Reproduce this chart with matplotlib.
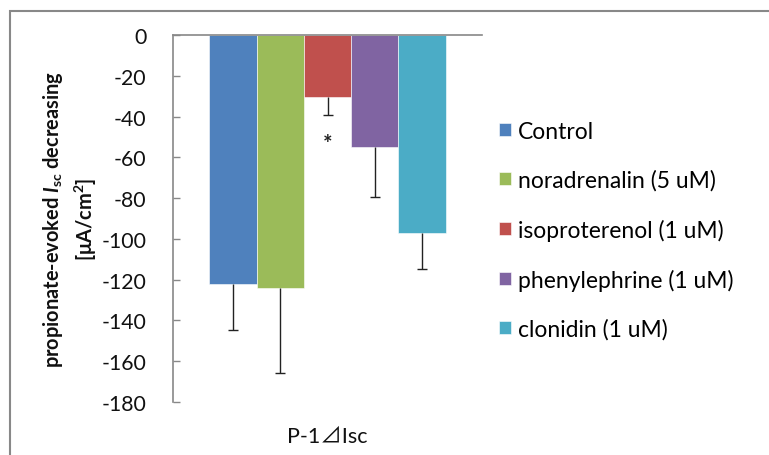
import matplotlib
matplotlib.use("Agg")
import matplotlib.pyplot as plt
from matplotlib.patches import Rectangle
import numpy as np

# ---- data ----
series = ["Control", "noradrenalin (5 uM)", "isoproterenol (1 uM)",
          "phenylephrine (1 uM)", "clonidin (1 uM)"]
values = [-122, -124, -30.5, -55, -97]
errors = [22.5, 42, 8.5, 24.5, 18]
category = "P-1\u22bfIsc"
yticks = [0, -20, -40, -60, -80, -100, -120, -140, -160, -180]
colors = ["#4F81BD", "#9BBB59", "#C0504D", "#8064A2", "#4BACC6"]

plt.rcParams['font.family'] = ['Lato', 'DejaVu Sans']
plt.rcParams['mathtext.fontset'] = 'custom'
plt.rcParams['mathtext.rm'] = 'Lato:bold'
plt.rcParams['mathtext.it'] = 'Lato:bold:italic'
plt.rcParams['mathtext.bf'] = 'Lato:bold'

W, H = 769, 456
fig = plt.figure(figsize=(W/100, H/100), dpi=100)
ax = fig.add_axes([173/W, 1-403/H, (482-173)/W, (403-36)/H])

x = np.arange(len(series))
for i in range(len(series)):
    ax.bar(x[i], values[i], width=1.0, color=colors[i], label=series[i],
           edgecolor='white', linewidth=0.4, zorder=2)
    eb = ax.errorbar(x[i], values[i], yerr=[[errors[i]], [0]], fmt='none',
                     ecolor='#222222', elinewidth=1.0, capsize=3.6, capthick=1.0, zorder=3)
    caps = eb.lines[1]
    if len(caps) > 1:
        caps[1].set_visible(False)

# significance marker under isoproterenol
ax.text(x[2], values[2] - errors[2] - 14, "*", ha='center', va='center',
        fontsize=16, fontweight='bold', color='#222222')

ax.set_ylim(-180, 0)
ax.set_xlim(-1.265, 5.265)
ax.set_yticks(yticks)
ax.set_yticklabels([str(t) for t in yticks])
ax.tick_params(axis='y', direction='in', length=5, width=1, color='#888888',
               labelsize=15.3, pad=19, labelcolor='#111111')
ax.set_xticks([np.mean(x)])
ax.set_xticklabels([category], fontfamily=['Lato', 'Noto Sans CJK JP', 'DejaVu Sans'])
ax.tick_params(axis='x', length=0, labelsize=15.5, pad=17, labelcolor='#111111')

for s in ['right', 'bottom']:
    ax.spines[s].set_visible(False)
for s in ['left', 'top']:
    ax.spines[s].set_color('#888888')
    ax.spines[s].set_linewidth(1.2)

ax.set_ylabel("propionate-evoked $I_{\\mathrm{sc}}$ decreasing\n[\u03bcA/cm$^{\\mathrm{2}}$]",
              fontsize=14.4, fontweight='bold', linespacing=1.4, color='#111111')
ax.yaxis.set_label_coords(-0.24, 0.5)

leg = ax.legend(loc='center left', bbox_to_anchor=((490 - 173) / (482 - 173), 0.468),
                frameon=False, fontsize=16.5, handlelength=0.52, handleheight=0.52,
                handletextpad=0.3, labelspacing=1.21, borderaxespad=0)

# outer chart border
fig.patches.append(Rectangle((10/W, -0.1), 1.2, 1 - 12/H + 0.1, transform=fig.transFigure,
                             fill=False, edgecolor='#888888', linewidth=1.5))

fig.savefig("out.png", dpi=100)
